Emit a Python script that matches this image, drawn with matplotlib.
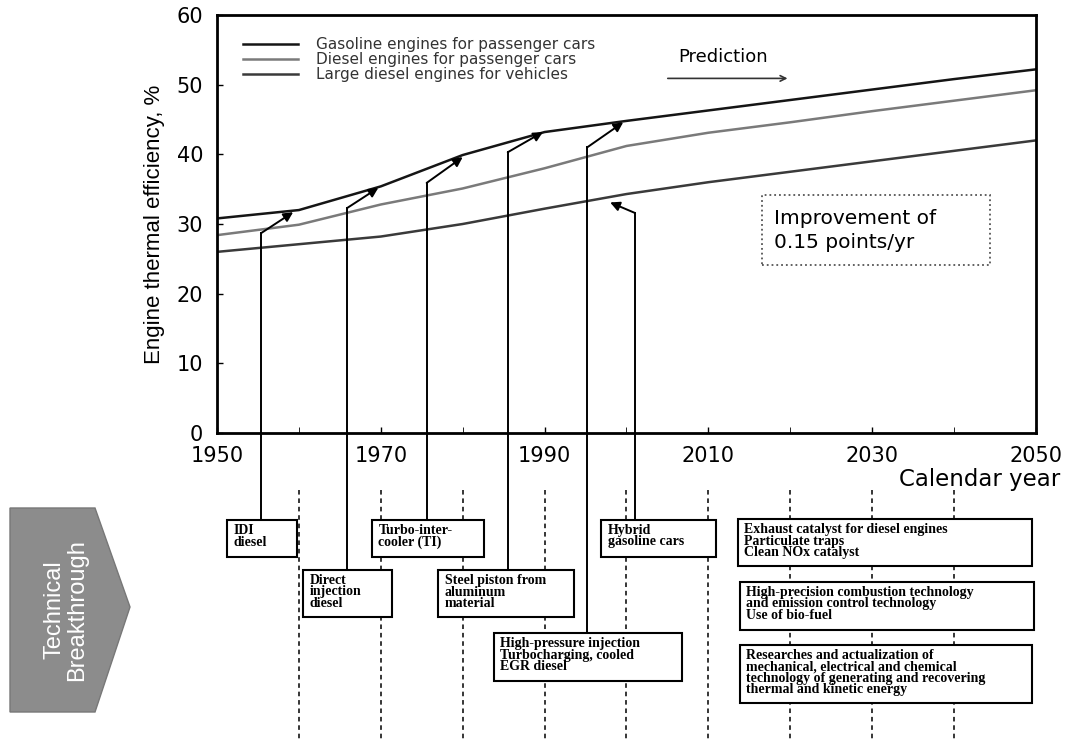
import matplotlib.pyplot as plt
from matplotlib.patches import Rectangle, Polygon

plt.rcParams['font.family'] = ['DejaVu Sans']

# --- data ---
years = [1950, 1960, 1970, 1980, 1990, 2000, 2010, 2020, 2030, 2040, 2050]
gasoline = [30.8, 32.0, 35.4, 39.9, 43.2, 44.8, 46.3, 47.8, 49.3, 50.8, 52.2]
diesel_pc = [28.4, 29.9, 32.8, 35.1, 38.0, 41.2, 43.1, 44.6, 46.2, 47.7, 49.2]
diesel_large = [26.0, 27.1, 28.2, 30.0, 32.2, 34.3, 36.0, 37.5, 39.0, 40.5, 42.0]

series_labels = ['Gasoline engines for passenger cars',
                 'Diesel engines for passenger cars',
                 'Large diesel engines for vehicles']
series_colors = ['#151515', '#7a7a7a', '#3a3a3a']

# technology arrows: vertical line at base year, then arrow to a point on a curve
arrow_base_year = [1955.4, 1965.9, 1975.6, 1985.5, 1995.2, 2001.0]
arrow_base_val = [28.7, 32.3, 35.9, 40.3, 41.0, 31.6]
arrow_head_year = [1959.3, 1969.7, 1980.0, 1989.8, 1999.6, 1998.0]
arrow_head_val = [31.7, 35.2, 39.6, 43.2, 44.6, 33.1]

tech_labels = ['IDI\ndiesel',
               'Direct\ninjection\ndiesel',
               'Turbo-inter-\ncooler (TI)',
               'Steel piston from\naluminum\nmaterial',
               'High-pressure injection\nTurbocharging, cooled\nEGR diesel',
               'Hybrid\ngasoline cars']
future_labels = ['Exhaust catalyst for diesel engines\nParticulate traps\nClean NOx catalyst',
                 'High-precision combustion technology\nand emission control technology\nUse of bio-fuel',
                 'Researches and actualization of\nmechanical, electrical and chemical\n'
                 'technology of generating and recovering\nthermal and kinetic energy']

# box layout in the lower panel (x in years, y in pixels below the x axis)
tech_x0 = [1951.2, 1960.5, 1968.9, 1977.0, 1983.8, 1996.9]
tech_x1 = [1959.8, 1971.4, 1982.6, 1993.6, 2006.8, 2010.9]
tech_top = [87, 137, 87, 137, 200, 87]
tech_bot = [124, 184, 124, 184, 248, 124]
future_x0 = [2013.6, 2013.8, 2013.8]
future_x1 = [2049.5, 2049.8, 2049.5]
future_top = [86, 149, 212]
future_bot = [133, 197, 270]

W, H = 1072, 740
fig = plt.figure(figsize=(W / 100, H / 100), dpi=100)
ax = fig.add_axes([217 / W, 1 - 433 / H, (1036 - 217) / W, (433 - 15) / H])
ax2 = fig.add_axes([217 / W, 0, (1036 - 217) / W, 307 / H])

for vals, lab, col in zip([gasoline, diesel_pc, diesel_large], series_labels, series_colors):
    ax.plot(years, vals, color=col, lw=1.8, label=lab)

ax.set_xlim(1950, 2050)
ax.set_ylim(0, 60)
ax.set_xticks(range(1950, 2051, 20))
ax.set_xticks(range(1960, 2050, 20), minor=True)
ax.set_yticks(range(0, 61, 10))
ax.tick_params(direction='in', length=4, labelsize=15, width=1)
ax.tick_params(axis='y', pad=10)
ax.tick_params(axis='x', pad=9)
ax.tick_params(which='minor', direction='in', length=4)
for s in ax.spines.values():
    s.set_linewidth(2)

ax.legend(loc='upper left', bbox_to_anchor=(0.015, 0.98), frameon=False,
          fontsize=11, handlelength=3.6, handletextpad=1.2, labelspacing=0.0,
          labelcolor='#333333')

ax.set_ylabel('Engine thermal efficiency, %', fontsize=16, labelpad=8,
              family=['Liberation Sans', 'DejaVu Sans'])

# prediction arrow
ax.annotate('', xy=(2020.0, 50.9), xytext=(2004.7, 50.9),
            arrowprops=dict(arrowstyle='->', lw=1.2, color='#333333'))
ax.text(2011.8, 53.9, 'Prediction', fontsize=13, ha='center', va='center')

# improvement note
ax.add_patch(Rectangle((2016.5, 24.1), 2044.4 - 2016.5, 34.1 - 24.1, fc='white',
                       ec='#555555', ls=':', lw=1.3, zorder=3))
ax.text(2018.0, 29.1, 'Improvement of\n0.15 points/yr', fontsize=14.5, ha='left',
        va='center', linespacing=1.3, zorder=4)

# lower panel
ax2.set_xlim(1950, 2050)
ax2.set_ylim(307, 0)
ax2.axis('off')

ax2.plot([1949.5, 1949.5], [57, 289], color='k', lw=1.6)
for yr in range(1960, 2050, 10):
    ax2.plot([yr, yr], [57, 307], color='k', lw=1.1, ls=(0, (3, 2.5)), zorder=1)

# connectors and arrows
for bx, bv, hx, hv, top in zip(arrow_base_year, arrow_base_val, arrow_head_year,
                               arrow_head_val, tech_top):
    ax.plot([bx, bx], [0, bv], color='k', lw=1.4, zorder=2)
    ax.annotate('', xy=(hx, hv), xytext=(bx, bv),
                arrowprops=dict(arrowstyle='-|>', lw=1.4, color='k',
                                mutation_scale=14, shrinkA=0, shrinkB=0))
    ax2.plot([bx, bx], [0, top], color='k', lw=1.4, zorder=2)

box_font = dict(family=['Liberation Serif', 'DejaVu Serif'], fontsize=10,
                weight='bold', linespacing=0.85, ha='left', va='top', zorder=5)
for lab, x0, x1, t, b in zip(tech_labels + future_labels, tech_x0 + future_x0,
                             tech_x1 + future_x1, tech_top + future_top,
                             tech_bot + future_bot):
    ax2.add_patch(Rectangle((x0, t), x1 - x0, b - t, fc='white', ec='k', lw=1.5, zorder=4))
    ax2.text(x0 + 0.8, t + 4, lab, **box_font)

fig.text(1060 / W, 1 - 479 / H, 'Calendar year', fontsize=16.5, ha='right', va='center')

# "Technical Breakthrough" badge
pts = [(10, 508), (95, 508), (130, 607), (95, 712), (10, 712)]
fig.patches.append(Polygon([(x / W, 1 - y / H) for x, y in pts], closed=True,
                           transform=fig.transFigure, fc='#8c8c8c', ec='#777777'))
fig.text(66 / W, 1 - 610 / H, 'Technical\nBreakthrough', rotation=90, color='white',
         fontsize=17, ha='center', va='center', linespacing=1.05,
         family=['Liberation Sans', 'DejaVu Sans'])

fig.savefig('out.png', dpi=100, facecolor='white')
